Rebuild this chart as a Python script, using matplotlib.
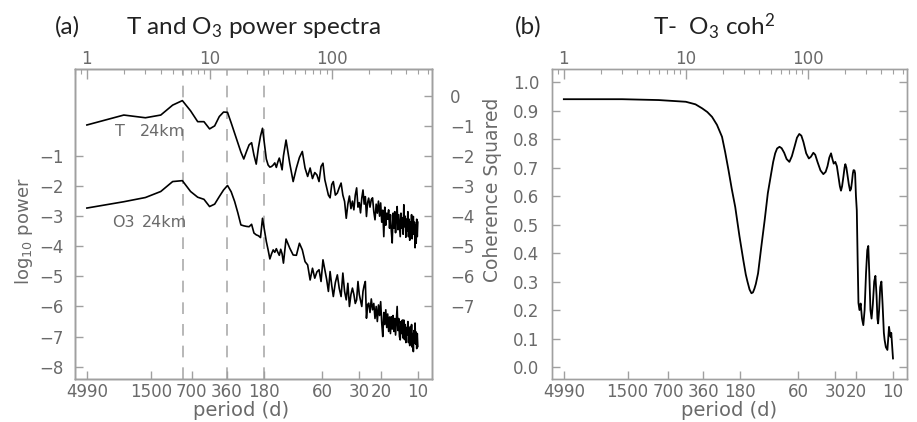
import numpy as np
import matplotlib
matplotlib.use('Agg')
import matplotlib.pyplot as plt
from matplotlib.ticker import FixedLocator, FixedFormatter, LogLocator, NullFormatter, NullLocator

# =====================================================================
# [1] settings
# =====================================================================
plt.rcParams['font.family'] = ['DejaVu Sans']
plt.rcParams['mathtext.fontset'] = 'custom'
plt.rcParams['mathtext.rm'] = 'Lato'
plt.rcParams['mathtext.it'] = 'Lato'
plt.rcParams['mathtext.default'] = 'rm'

AX_GRAY = '#a0a0a0'
TXT_GRAY = '#6a6a6a'
DASH_GRAY = '#ababab'
TITLE_COL = '#222222'
TICK_SIZE = 12

W, H = 917, 422

# =====================================================================
# [2] data
# =====================================================================
RECORD_DAYS = 4990          # record length -> period = RECORD_DAYS / k
K_MIN, K_MAX = 0.8, 650

period_ticks = [4990, 1500, 700, 360, 180, 60, 30, 20, 10]
top_ticks = [1, 10, 100]
marked_periods = [820, 360, 180]

# spectra, frequency index k and log10 power (left-axis units)
k_a = list(range(1, 41))
T_a = [0.03, 0.36, 0.27, 0.36, 0.69, 0.84, 0.50, 0.14, 0.14, -0.10,
       0.00, 0.31, 0.46, 0.45, 0.10, -0.24, -0.57, -0.87, -1.10, -0.85,
       -0.63, -0.56, -0.97, -1.27, -0.73, -0.34, -0.08, -0.60, -1.10, -1.30,
       -1.37, -1.35, -1.30, -1.23, -1.38, -1.20, -1.07, -1.25, -1.46, -1.00]
O3_a = [-2.73, -2.52, -2.38, -2.18, -1.85, -1.82, -2.18, -2.37, -2.44, -2.68,
        -2.60, -2.35, -2.13, -1.98, -2.19, -2.51, -2.89, -3.29, -3.32, -3.34,
        -3.35, -3.27, -3.56, -3.62, -3.65, -3.71, -3.07, -3.46, -3.84, -4.12,
        -4.42, -4.25, -4.12, -4.20, -4.08, -4.20, -4.30, -4.10, -4.25, -4.56]

k_b = list(range(42, 100, 3))
T_b = [-0.47, -1.24, -1.85, -1.40, -1.05, -0.85, -1.40, -1.68, -1.40, -1.75,
       -1.55, -1.63, -1.85, -1.35, -1.24, -1.79, -2.05, -2.30, -2.39, -1.95]
O3_b = [-3.76, -4.06, -4.29, -4.30, -3.90, -4.12, -4.51, -4.62, -5.12, -4.73,
        -5.06, -4.85, -4.78, -5.17, -4.45, -4.78, -5.10, -5.50, -4.84, -5.30]

k_c = list(range(102, 199, 4))
T_c = [-1.85, -2.30, -2.23, -2.05, -1.90, -2.30, -2.51, -3.07, -2.60, -2.33,
       -2.75, -2.50, -2.79, -2.30, -2.06, -2.70, -2.55, -2.89, -2.40, -2.13,
       -2.60, -2.35, -3.01, -2.55, -2.40]
O3_c = [-5.67, -5.20, -4.95, -5.40, -5.67, -4.89, -5.50, -5.78, -5.23, -6.00,
        -5.60, -5.39, -5.60, -5.90, -5.78, -5.17, -5.60, -5.80, -6.00, -5.50,
        -5.30, -5.17, -6.39, -5.95, -5.89]

k_d = list(range(203, 499, 5))
T_d = [-2.70, -2.45, -2.39, -2.85, -3.12, -2.60, -2.90, -2.50, -3.00, -2.56,
       -3.20, -2.80, -3.68, -2.70, -3.30, -2.90, -3.10, -2.79, -3.40, -2.95,
       -3.50, -3.89, -2.90, -3.40, -2.85, -3.55, -3.00, -2.68, -3.45, -2.95,
       -3.30, -3.68, -2.90, -3.40, -3.05, -3.60, -2.62, -3.35, -3.00, -3.70,
       -3.10, -3.50, -2.85, -3.68, -3.10, -3.80, -3.20, -3.55, -2.95, -3.75,
       -3.15, -3.01, -3.60, -3.20, -4.05, -3.30, -3.90, -3.10, -3.68, -3.20]
O3_d = [-6.20, -5.75, -6.11, -5.90, -6.40, -6.00, -6.50, -5.95, -6.30, -5.84,
        -6.55, -7.00, -6.20, -6.60, -6.11, -6.70, -6.25, -6.83, -6.35, -6.90,
        -6.34, -6.75, -6.30, -6.83, -6.40, -6.95, -6.50, -6.00, -6.80, -6.40,
        -7.00, -7.11, -6.50, -6.90, -6.45, -7.05, -6.45, -7.10, -6.60, -7.20,
        -6.70, -6.94, -6.50, -7.20, -6.75, -7.30, -6.67, -7.10, -6.60, -7.35,
        -6.90, -7.50, -6.80, -7.20, -6.55, -7.25, -6.85, -7.40, -6.90, -7.33]

k_spec = k_a + k_b + k_c + k_d
T_power = T_a + T_b + T_c + T_d
O3_power = O3_a + O3_b + O3_c + O3_d

# coherence squared
coh_k = [1, 3, 6, 10, 12, 13.6, 15, 16.4, 18, 19.8,
         21, 22.4, 23.8, 25.4, 27.5, 29.6, 31, 32, 33.3, 34.5,
         35.5, 36.5, 37.5, 39.1, 41.5, 44.3, 47, 50.1, 52, 54,
         56, 58.6, 61, 64, 67, 70.6, 74, 78, 81.5, 85.1,
         88.5, 92, 97, 102, 106, 111, 115, 120, 127, 134,
         140, 145, 150, 155, 159, 163, 168, 173, 178, 183,
         187, 191, 196, 200, 203, 207, 212, 217, 222, 226,
         230, 234, 237, 241, 244, 248, 252, 256, 260, 265,
         271, 278, 285, 292, 300, 307, 313, 319, 326, 333,
         341, 350, 358, 366, 372, 377, 384, 392, 401, 410,
         420, 426, 436, 449, 456, 463, 470, 477, 483, 490, 499]
coh_vals = [0.940, 0.940, 0.937, 0.931, 0.922, 0.908, 0.895, 0.878, 0.850, 0.808,
            0.755, 0.690, 0.625, 0.562, 0.460, 0.375, 0.325, 0.300, 0.272, 0.259,
            0.262, 0.275, 0.292, 0.329, 0.420, 0.516, 0.610, 0.680, 0.720, 0.750,
            0.767, 0.773, 0.768, 0.752, 0.730, 0.720, 0.740, 0.775, 0.805, 0.818,
            0.812, 0.790, 0.750, 0.732, 0.738, 0.752, 0.745, 0.720, 0.690, 0.677,
            0.685, 0.705, 0.735, 0.750, 0.730, 0.714, 0.720, 0.705, 0.670, 0.635,
            0.619, 0.635, 0.670, 0.700, 0.712, 0.700, 0.670, 0.640, 0.619, 0.625,
            0.650, 0.680, 0.691, 0.690, 0.680, 0.600, 0.550, 0.380, 0.225, 0.200,
            0.223, 0.170, 0.147, 0.200, 0.330, 0.410, 0.425, 0.330, 0.200, 0.170,
            0.220, 0.300, 0.320, 0.250, 0.170, 0.153, 0.200, 0.280, 0.300, 0.220,
            0.120, 0.095, 0.070, 0.060, 0.100, 0.141, 0.120, 0.106, 0.120, 0.080, 0.030]


# =====================================================================
# [3] helpers
# =====================================================================
def px_box(x0, y0, x1, y1):
    return [x0 / W, 1 - y1 / H, (x1 - x0) / W, (y1 - y0) / H]


def fig_text(x, y, s, **kw):
    return fig.text(x / W, 1 - y / H, s, **kw)


def gray_frame(ax):
    for sp in ax.spines.values():
        sp.set_color(AX_GRAY)
        sp.set_linewidth(1.0)


def period_axes(ax):
    # bottom: period in days, top: frequency index
    ax.set_xscale('log')
    ax.set_xlim(K_MIN, K_MAX)
    ax.xaxis.set_major_locator(FixedLocator([RECORD_DAYS / p for p in period_ticks]))
    ax.xaxis.set_major_formatter(FixedFormatter([str(p) for p in period_ticks]))
    ax.xaxis.set_minor_locator(NullLocator())
    ax.tick_params(axis='x', direction='in', length=6, width=1, color=AX_GRAY,
                   labelcolor=TXT_GRAY, labelsize=TICK_SIZE, pad=3)
    gray_frame(ax)

    top = ax.twiny()
    top.set_xscale('log')
    top.set_xlim(K_MIN, K_MAX)
    top.xaxis.set_major_locator(FixedLocator(top_ticks))
    top.xaxis.set_major_formatter(FixedFormatter([str(t) for t in top_ticks]))
    top.xaxis.set_minor_locator(LogLocator(base=10, subs=np.arange(2, 10), numticks=20))
    top.xaxis.set_minor_formatter(NullFormatter())
    top.tick_params(axis='x', which='major', direction='in', length=7, width=1,
                    color=AX_GRAY, labelcolor=TXT_GRAY, labelsize=TICK_SIZE, pad=1)
    top.tick_params(axis='x', which='minor', direction='in', length=3.5, width=0.8,
                    color=AX_GRAY)
    gray_frame(top)
    return top


# =====================================================================
# [4] figure
# =====================================================================
fig = plt.figure(figsize=(W / 100, H / 100), dpi=100)

# --- (a) power spectra ---
ax1 = fig.add_axes(px_box(75, 69, 432, 379))
period_axes(ax1)
ax1.set_ylim(-8.41, 1.89)
ax1.yaxis.set_major_locator(FixedLocator(list(range(-8, 0))))
ax1.tick_params(axis='y', direction='in', length=6, width=1, color=AX_GRAY,
                labelcolor=TXT_GRAY, labelsize=TICK_SIZE, pad=8, right=False)

ax1r = ax1.twinx()
ax1r.set_ylim(-9.41, 0.89)
ax1r.yaxis.set_major_locator(FixedLocator(list(range(-7, 1))))
ax1r.tick_params(axis='y', direction='in', length=6, width=1, color=AX_GRAY,
                 labelcolor=TXT_GRAY, labelsize=TICK_SIZE, pad=13)
gray_frame(ax1r)

for p in marked_periods:
    ax1.axvline(RECORD_DAYS / p, color=DASH_GRAY, lw=1.2, ls=(0, (7, 6)), zorder=1)

ax1.plot(k_spec, T_power, color='black', lw=1.2, zorder=3)
ax1.plot(k_spec, O3_power, color='black', lw=1.2, zorder=3)

ax1.text(1.69, -0.2, 'T', color=TXT_GRAY, fontsize=11.5, va='center', ha='left')
ax1.text(2.71, -0.2, '24km', color=TXT_GRAY, fontsize=11.5, va='center', ha='left')
ax1.text(1.60, -3.22, 'O3', color=TXT_GRAY, fontsize=11.5, va='center', ha='left')
ax1.text(2.81, -3.22, '24km', color=TXT_GRAY, fontsize=11.5, va='center', ha='left')

# --- (b) coherence squared ---
ax2 = fig.add_axes(px_box(552, 69, 907, 379))
period_axes(ax2)
ax2.set_ylim(-0.042, 1.046)
ax2.yaxis.set_major_locator(FixedLocator([i / 10 for i in range(11)]))
ax2.yaxis.set_major_formatter(FixedFormatter(['%.1f' % (i / 10) for i in range(11)]))
ax2.tick_params(axis='y', direction='in', length=6, width=1, color=AX_GRAY,
                labelcolor=TXT_GRAY, labelsize=TICK_SIZE, pad=9, right=True, labelright=False)
ax2.plot(coh_k, coh_vals, color='black', lw=1.3, zorder=3)

# --- labels and titles ---
fig_text(24, 231, r'log$_{10}$ power', rotation=90, ha='center', va='center',
         color=TXT_GRAY, fontsize=13, math_fontfamily='dejavusans')
fig_text(493, 190, 'Coherence Squared', rotation=90, ha='center', va='center',
         color=TXT_GRAY, fontsize=13.5)
fig_text(241, 411, 'period (d)', ha='center', va='center', color=TXT_GRAY, fontsize=14)
fig_text(729, 411, 'period (d)', ha='center', va='center', color=TXT_GRAY, fontsize=14)

fig_text(67, 27, '(a)', ha='center', va='center', fontsize=17.5, family='Lato', color=TITLE_COL)
fig_text(253, 27, r'T and O$_3$ power spectra', ha='center', va='center', fontsize=17.5,
         family='Lato', color=TITLE_COL)
fig_text(528, 27, '(b)', ha='center', va='center', fontsize=17.5, family='Lato', color=TITLE_COL)
fig_text(714, 27, r'T-  O$_3$ coh$^2$', ha='center', va='center', fontsize=17.5,
         family='Lato', color=TITLE_COL)

plt.savefig('out.png', dpi=100)
